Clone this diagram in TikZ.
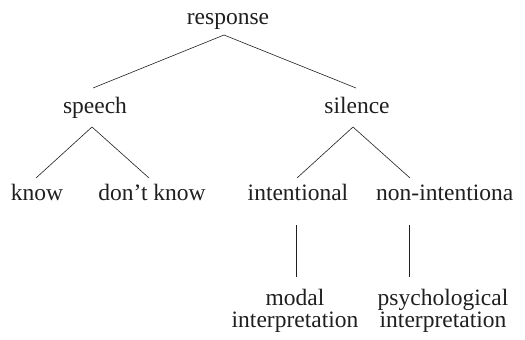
\documentclass[tikz,border=0pt]{standalone}
\usepackage{fontspec}
\setmainfont{Liberation Serif}
\usetikzlibrary{calc}
\begin{document}
\begin{tikzpicture}[x=1pt,y=-1pt,
  lbl/.style={anchor=base,inner sep=0pt,text=black!88,font=\fontsize{23.5}{22}\selectfont},
  two/.style={lbl,align=center},
  edge/.style={draw=black!88,line width=0.6pt}]
\useasboundingbox (0,0) rectangle (525,340);
\node[lbl] (response) at (228,24) {response};
\node[lbl] (speech) at (95,113) {speech};
\node[lbl] (silence) at (357,113) {silence};
\node[lbl] (know) at (37,200) {know};
\node[lbl] (dontknow) at (152,200) {don’t know};
\node[lbl] (intentional) at (298,200) {intentional};
\node[lbl,anchor=base west] (nonint) at (376,200) {non-intentiona};
\node[two] (modal) at (295,327) {modal\\interpretation};
\node[two] (psych) at (443,327) {psychological\\interpretation};
\coordinate (nonc) at (409,200);
\draw[edge] ($(response.base)+(-4,11)$) -- ($(speech.base)+(-2,-25)$);
\draw[edge] ($(response.base)+(-4,11)$) -- ($(silence.base)+(-1,-25)$);
\draw[edge] ($(speech.base)+(-3,14)$) -- ($(know.base)+(-1,-22)$);
\draw[edge] ($(speech.base)+(-3,14)$) -- ($(dontknow.base)+(-3,-22)$);
\draw[edge] ($(silence.base)+(-4,14)$) -- ($(intentional.base)+(-1,-22)$);
\draw[edge] ($(silence.base)+(-4,14)$) -- ($(nonc)+(1,-22)$);
\draw[edge] ($(intentional.base)+(-2,25)$) -- ($(modal.base)+(1,-50)$);
\draw[edge] ($(nonc)+(0,25)$) -- ($(psych.base)+(-34,-50)$);
\end{tikzpicture}
\end{document}
